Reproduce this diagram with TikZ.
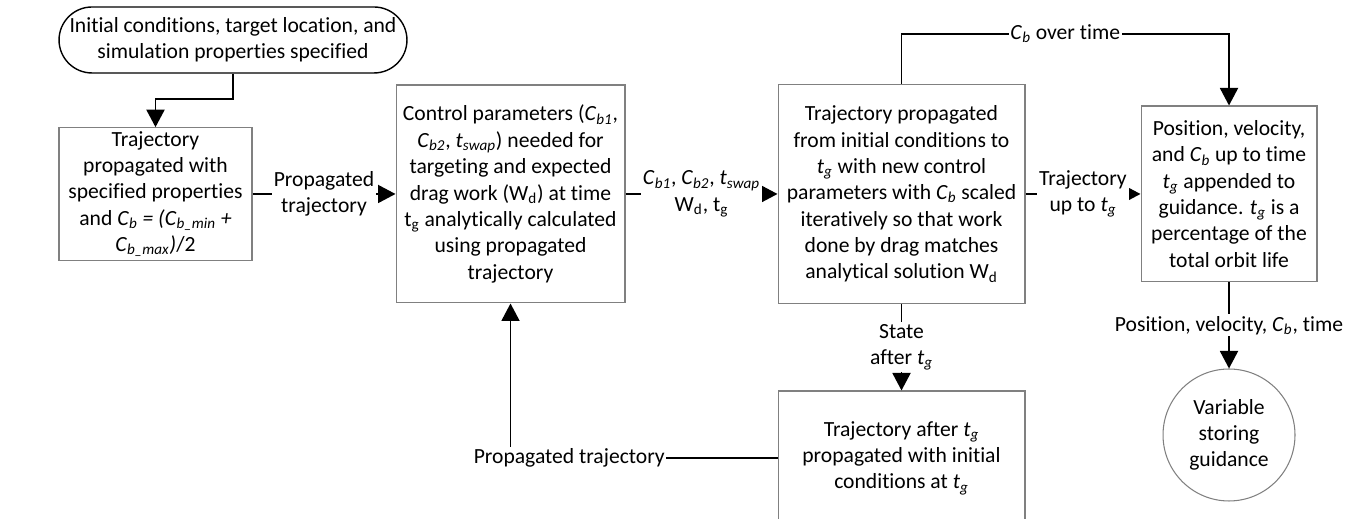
\documentclass[tikz,border=0pt]{standalone}
\usepackage{fontspec}
\setmainfont{Carlito}[Ligatures=NoCommon, Contextuals=NoAlternate]
\usetikzlibrary{arrows.meta}
\newcommand{\cbs}[1]{\textit{C}\textsubscript{\textit{#1}}}
\newcommand{\tgi}{\textit{t}\textsubscript{\textit{g}}}
\newcommand{\tgu}{t\textsubscript{g}}
\newcommand{\wdu}{W\textsubscript{d}}
\newcommand{\tsw}{\textit{t}\textsubscript{\textit{swap}}}

\tikzset{
  box/.style={draw=gray, line width=0.6pt, align=center, inner sep=2pt},
  flow/.style={line width=1.1pt, -{Triangle[length=3.5mm,width=3.6mm]}},
  lbl/.style={fill=white, align=center, inner sep=1pt},
}

\begin{document}
\begin{tikzpicture}[x=0.02cm, y=0.02cm, font=\fontsize{12.3}{15}\selectfont]
    \useasboundingbox (0,0) rectangle (1365,519);
    % blocks
    \node[draw, line width=0.8pt, rounded corners=0.66cm, minimum width=6.96cm, minimum height=1.32cm, align=center, inner sep=0pt] (start) at (233,479) {Initial conditions, target location, and\\simulation properties specified};
    \node[box, minimum width=3.86cm, minimum height=2.64cm] (traj0) at (155.5,325) {Trajectory\\propagated with\\specified properties\\and \cbs{b} \textit{= (}\cbs{b\_min} \textit{+}\\\cbs{b\_max}\textit{)}/2};
    \node[box, minimum width=4.58cm, minimum height=4.36cm] (ctrl) at (510.5,325) {Control parameters (\cbs{b1},\\\cbs{b2}, \tsw) needed for\\targeting and expected\\drag work (\wdu) at time\\\tgu{} analytically calculated\\using propagated\\trajectory};
    \node[box, minimum width=4.94cm, minimum height=4.38cm] (iter) at (901.5,325) {Trajectory propagated\\from initial conditions to\\\tgi{} with new control\\parameters with \cbs{b} scaled\\iteratively so that work\\done by drag matches\\analytical solution \wdu};
    \node[box, minimum width=3.52cm, minimum height=3.52cm] (guid) at (1229,325) {Position, velocity,\\and \cbs{b} up to time\\\tgi{} appended to\\guidance. \tgi{} is a\\percentage of the\\total orbit life};
    \node[draw=gray, line width=0.6pt, circle, minimum size=2.64cm, align=center, inner sep=0pt] (store) at (1229,84) {Variable\\storing\\guidance};
    \node[box, minimum width=4.94cm, minimum height=2.68cm] (after) at (901.5,61) {Trajectory after \tgi\\propagated with initial\\conditions at \tgi};

    % connectors
    \draw[flow] (start.south) -- ++(0,-25) -| (traj0.north);
    \draw[flow] (traj0) -- node[lbl]{Propagated\\trajectory} (ctrl);
    \draw[flow] (ctrl) -- node[lbl]{\cbs{b1}, \cbs{b2}, \tsw\\\wdu, \tgu} (iter);
    \draw[flow] (iter.north) -- ++(0,50) -| node[lbl, pos=0.25]{\cbs{b} over time} (guid.north);
    \draw[flow] (iter) -- node[lbl]{Trajectory\\up to \tgi} (guid);
    \draw[flow] (guid) -- node[lbl]{Position, velocity, \cbs{b}, time} (store);
    \draw[flow] (iter) -- node[lbl]{State\\after \tgi} (after);
    \draw[flow] (after.west) -| node[lbl, pos=0.39]{Propagated trajectory} (ctrl.south);
\end{tikzpicture}
\end{document}
